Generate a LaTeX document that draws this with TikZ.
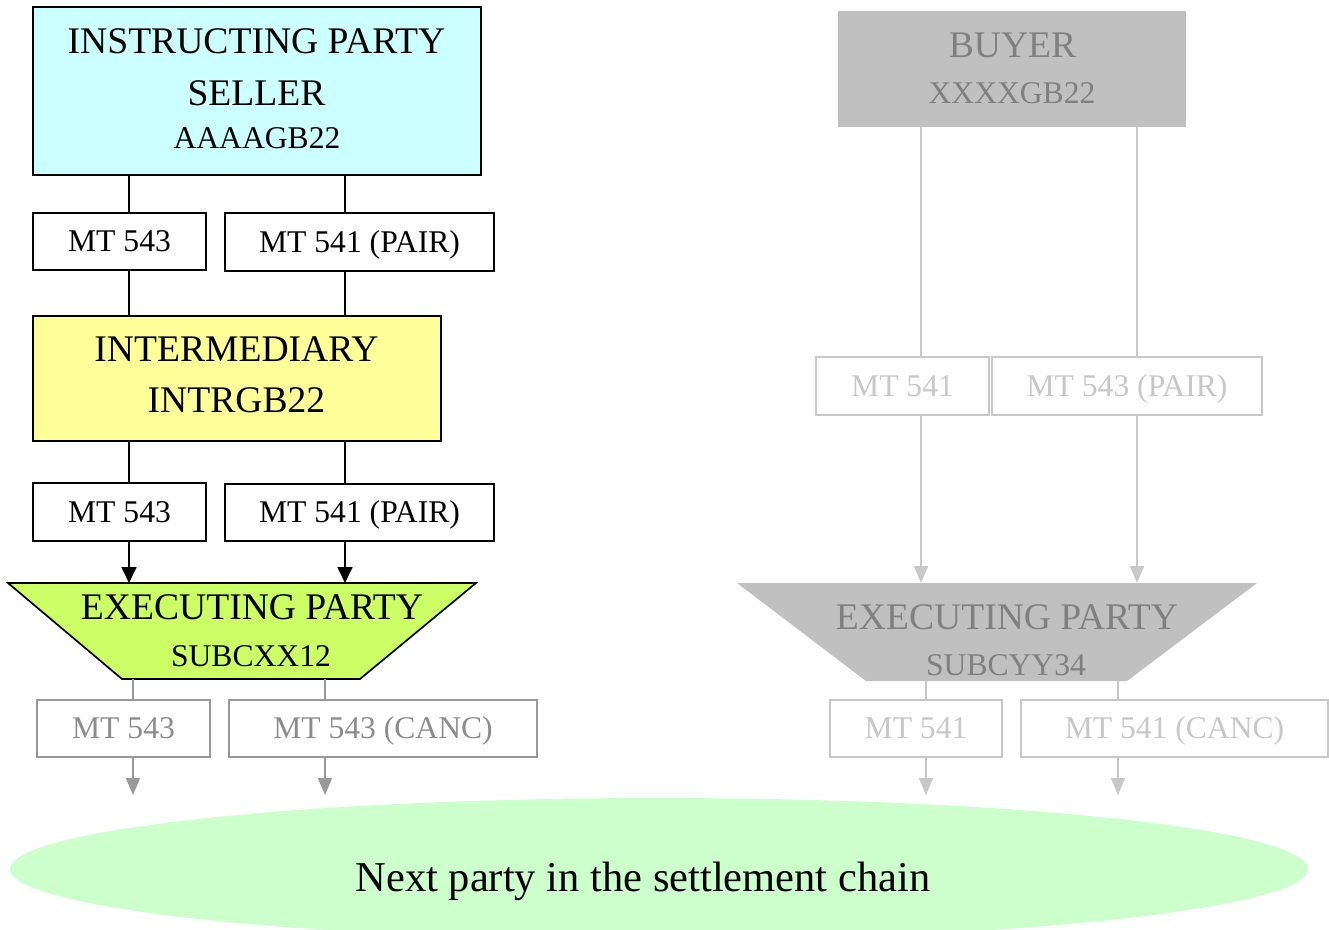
\documentclass[tikz,border=0pt]{standalone}
\usepackage{fontspec}
\setmainfont{Liberation Serif}
\usetikzlibrary{arrows.meta,shapes.geometric}

\definecolor{instrfill}{HTML}{CCFFFF}
\definecolor{interfill}{HTML}{FFFF99}
\definecolor{execfill}{HTML}{CCFF66}
\definecolor{greyfill}{HTML}{C0C0C0}
\definecolor{greytext}{HTML}{808080}
\definecolor{midgrey}{HTML}{999999}
\definecolor{midtext}{HTML}{8C8C8C}
\definecolor{lightgrey}{HTML}{C8C8C8}
\definecolor{nextfill}{HTML}{CCFFCC}

\tikzset{
  bigfont/.style={font=\fontsize{37.6}{44}\selectfont},
  smallfont/.style={font=\fontsize{31.6}{38}\selectfont},
  caption/.style={anchor=base, inner sep=0pt},
  party/.style={draw=black, line width=1.7pt, inner sep=0pt},
  msgbox/.style={draw=black, line width=1.7pt, inner sep=0pt, smallfont,
                 text height=20.6pt, text depth=0pt},
  fadedbox/.style={msgbox, draw=midgrey, text=midtext},
  paleredbox/.style={msgbox, draw=lightgrey, text=lightgrey},
  link/.style={line width=1.7pt, draw=black},
  flow/.style={link, -{Triangle[width=15pt,length=16pt]}},
  fadedflow/.style={line width=1.7pt, draw=midgrey, -{Triangle[width=14pt,length=17pt]}},
  paleflow/.style={line width=1.7pt, draw=lightgrey, -{Triangle[width=14pt,length=17pt]}},
}

\begin{document}
\begin{tikzpicture}[x=1pt,y=-1pt]
\useasboundingbox (0,0) rectangle (1329,929);

% ---------- settlement chain on the seller side ----------
\node[party, fill=instrfill, minimum width=448pt, minimum height=168pt] (ip) at (257,91) {};
\node[caption, bigfont] (ipA) at (256.5,53) {INSTRUCTING PARTY};
\node[caption, bigfont] (ipB) at (256.5,105) {SELLER};
\node[caption, smallfont] (ipC) at (257,148) {AAAAGB22};

\node[msgbox, minimum width=173pt, minimum height=57pt] (m1) at (119.5,241.5) {MT 543};
\node[msgbox, minimum width=269pt, minimum height=58pt] (p1) at (359.5,242) {MT 541 (PAIR)};

\node[party, fill=interfill, minimum width=408pt, minimum height=125pt] (im) at (237,378.5) {};
\node[caption, bigfont] (imA) at (236.5,361) {INTERMEDIARY};
\node[caption, bigfont] (imB) at (236.5,412) {INTRGB22};

\node[msgbox, minimum width=173pt, minimum height=58pt] (m2) at (119.5,512) {MT 543};
\node[msgbox, minimum width=269pt, minimum height=57pt] (p2) at (359.5,512.5) {MT 541 (PAIR)};

% executing party of the seller (inverted trapezium)
\coordinate (exLtop) at (242,583);
\coordinate (exLbot) at (241,679);
\draw[line width=1.7pt, fill=execfill, line join=miter]
  (8,583) -- (476,583) -- (360,679) -- (122,679) -- cycle;
\node[caption, bigfont] (exLA) at (252,619) {EXECUTING PARTY};
\node[caption, smallfont] (exLB) at (251,666) {SUBCXX12};

\node[fadedbox, minimum width=173pt, minimum height=57pt] (g1) at (123.5,728.5) {MT 543};
\node[fadedbox, minimum width=308pt, minimum height=57pt] (g2) at (383,728.5) {MT 543 (CANC)};

% vertical columns of the connectors
\coordinate (colA) at (129,0);
\coordinate (colB) at (345,0);
\coordinate (colC) at (133,0);
\coordinate (colD) at (325,0);
\coordinate (endA) at (133,795);
\coordinate (endB) at (325,795);

\draw[link] (colA |- ip.south) -- (colA |- m1.north);
\draw[link] (colB |- ip.south) -- (colB |- p1.north);
\draw[link] (colA |- m1.south) -- (colA |- im.north);
\draw[link] (colB |- p1.south) -- (colB |- im.north);
\draw[link] (colA |- im.south) -- (colA |- m2.north);
\draw[link] (colB |- im.south) -- (colB |- p2.north);
\draw[flow] (colA |- m2.south) -- (colA |- exLtop);
\draw[flow] (colB |- p2.south) -- (colB |- exLtop);
\draw[line width=1.7pt, draw=midgrey] (colC |- exLbot) -- (colC |- g1.north);
\draw[line width=1.7pt, draw=midgrey] (colD |- exLbot) -- (colD |- g2.north);
\draw[fadedflow] (colC |- g1.south) -- (endA);
\draw[fadedflow] (colD |- g2.south) -- (endB);

% ---------- settlement chain on the buyer side ----------
\node[fill=greyfill, inner sep=0pt, minimum width=348pt, minimum height=116pt] (buyer) at (1012,69) {};
\node[caption, bigfont, text=greytext] (buyerA) at (1012.5,57) {BUYER};
\node[caption, smallfont, text=greytext] (buyerB) at (1012,103) {XXXXGB22};

\node[paleredbox, minimum width=173pt, minimum height=58pt] (r1) at (902.5,386) {MT 541};
\node[paleredbox, minimum width=270pt, minimum height=58pt] (r2) at (1127,386) {MT 543 (PAIR)};

\coordinate (exRtop) at (997,583);
\coordinate (exRbot) at (996,681);
\fill[greyfill] (737,583) -- (1257,583) -- (1127,681) -- (866,681) -- cycle;
\node[caption, bigfont, text=greytext] (exRA) at (1007,629) {EXECUTING PARTY};
\node[caption, smallfont, text=greytext] (exRB) at (1006,675) {SUBCYY34};

\node[paleredbox, minimum width=172pt, minimum height=57pt] (r3) at (916,728.5) {MT 541};
\node[paleredbox, minimum width=307pt, minimum height=57pt] (r4) at (1174.5,728.5) {MT 541 (CANC)};

\coordinate (colE) at (921,0);
\coordinate (colF) at (1137,0);
\coordinate (colG) at (926,0);
\coordinate (colH) at (1118,0);
\coordinate (endC) at (926,795);
\coordinate (endD) at (1118,795);

\draw[line width=1.7pt, draw=lightgrey] (colE |- buyer.south) -- (colE |- r1.north);
\draw[line width=1.7pt, draw=lightgrey] (colF |- buyer.south) -- (colF |- r2.north);
\draw[paleflow] (colE |- r1.south) -- (colE |- exRtop);
\draw[paleflow] (colF |- r2.south) -- (colF |- exRtop);
\draw[line width=1.7pt, draw=lightgrey] (colG |- exRbot) -- (colG |- r3.north);
\draw[line width=1.7pt, draw=lightgrey] (colH |- exRbot) -- (colH |- r4.north);
\draw[paleflow] (colG |- r3.south) -- (endC);
\draw[paleflow] (colH |- r4.south) -- (endD);

% ---------- next party ----------
\node[ellipse, fill=nextfill, inner sep=0pt, minimum width=1298pt, minimum height=142pt] (next) at (659,869) {};
\node[caption, font=\fontsize{42.5}{50}\selectfont] (nextA) at (643,891) {Next party in the settlement chain};

\end{tikzpicture}
\end{document}
